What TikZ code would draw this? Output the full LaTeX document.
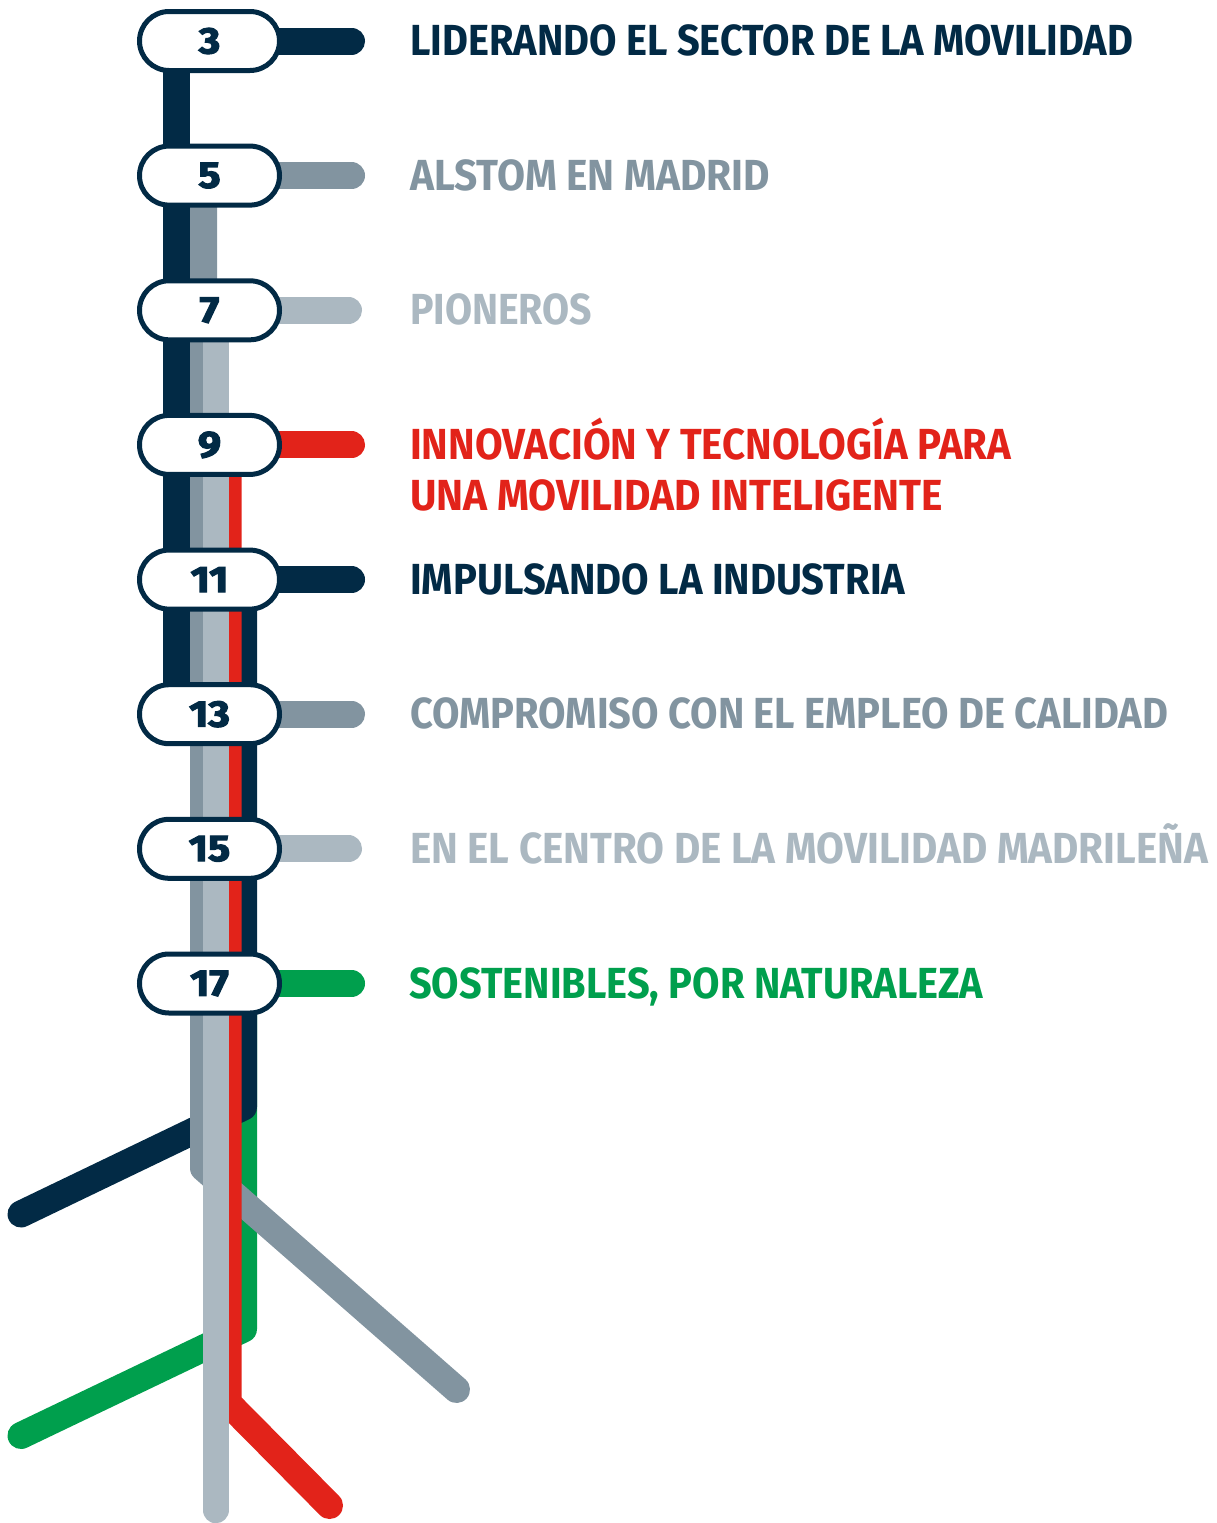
\documentclass[tikz,border=0pt]{standalone}
\usepackage{fontspec}
\setmainfont{Fira Sans}
\newfontfamily\numfont{Fira Sans}[BoldFeatures={FakeBold=3}]
\usetikzlibrary{shapes.misc}
\definecolor{navy}{RGB}{2,42,69}
\definecolor{midgray}{RGB}{130,148,160}
\definecolor{ltgray}{RGB}{171,184,193}
\definecolor{ared}{RGB}{226,35,26}
\definecolor{agreen}{RGB}{0,159,77}
\pgfdeclarelayer{bg}
\pgfsetlayers{bg,main}
\newcommand{\lbl}[2]{\resizebox{#1pt}{\height}{#2}}
\newcommand{\num}[1]{\scalebox{1.12}[1]{#1}}
\begin{document}
\begin{tikzpicture}[x=1pt,y=-1pt,
  stopbox/.style={draw=navy, fill=white, line width=5pt, rounded rectangle,
    minimum width=140pt, minimum height=59pt, inner sep=0pt,
    font=\numfont\bfseries\fontsize{37}{37}\selectfont, text=navy},
  track/.style={line width=27pt, line cap=round, line join=round},
  lab/.style={anchor=base west, inner sep=0pt, font=\bfseries\fontsize{43.5}{43.5}\selectfont}]
\useasboundingbox (0,0) rectangle (1216,1523);

% stops
\node[stopbox] (n3)  at (209.5,41)    {\num{3}};
\node[stopbox] (n5)  at (209.5,175.6) {\num{5}};
\node[stopbox] (n7)  at (209.5,310.3) {\num{7}};
\node[stopbox] (n9)  at (209.5,444.9) {\num{9}};
\node[stopbox] (n11) at (209.5,579.6) {\num{11}};
\node[stopbox] (n13) at (209.5,714.2) {\num{13}};
\node[stopbox] (n15) at (209.5,848.8) {\num{15}};
\node[stopbox] (n17) at (209.5,983.5) {\num{17}};

% arm ends
\coordinate (a3)  at (351.5,41);
\coordinate (a5)  at (351.5,175.6);
\coordinate (a7)  at (348.5,310.3);
\coordinate (a9)  at (351.5,444.9);
\coordinate (a11) at (351.5,579.6);
\coordinate (a13) at (351.5,714.2);
\coordinate (a15) at (348.5,848.8);
\coordinate (a17) at (351.5,983.5);

% branch points
\coordinate (lgEnd)  at (215.75,1510);
\coordinate (mgBend) at (203.5,1168);
\coordinate (mgEnd)  at (456.5,1389.5);
\coordinate (rdBend) at (228,1403);
\coordinate (rdEnd)  at (329.5,1505.5);
\coordinate (nbBend) at (243.5,1107);
\coordinate (nbEnd)  at (21,1214);
\coordinate (gnBend) at (243.5,1329);
\coordinate (gnEnd)  at (21,1435.5);

\begin{pgfonlayer}{bg}
  \draw[track, agreen] ([xshift=34pt]n17.center) -- (gnBend) -- (gnEnd);
  \draw[track, navy] ([xshift=34pt]n11.center) -- (nbBend) -- (nbEnd);
  \draw[track, midgray] ([xshift=-6pt]n5.center) -- (mgBend) -- (mgEnd);
  \draw[track, ared] ([xshift=18.5pt]n9.center) -- (rdBend) -- (rdEnd);
  \draw[track, ltgray, line width=26.5pt] ([xshift=6.25pt]n7.center) -- (lgEnd);
  \draw[track, navy] ([xshift=-33pt]n3.center) -- ([xshift=-33pt]n13.center);
  % arms
  \draw[track, navy]    (n3.center)  -- (a3);
  \draw[track, midgray] (n5.center)  -- (a5);
  \draw[track, ltgray]  (n7.center)  -- (a7);
  \draw[track, ared]    (n9.center)  -- (a9);
  \draw[track, navy]    (n11.center) -- (a11);
  \draw[track, midgray] (n13.center) -- (a13);
  \draw[track, ltgray]  (n15.center) -- (a15);
  \draw[track, agreen]  (n17.center) -- (a17);
\end{pgfonlayer}

% labels
\node[lab, text=navy]    (t3)  at (410,55.5)  {\lbl{723}{LIDERANDO EL SECTOR DE LA MOVILIDAD}};
\node[lab, text=midgray] (t5)  at (410,190.1) {\lbl{360}{ALSTOM EN MADRID}};
\node[lab, text=ltgray]  (t7)  at (410,324.8) {\lbl{182}{PIONEROS}};
\node[lab, text=ared]    (t9a) at (410,459.5) {\lbl{601}{INNOVACIÓN Y TECNOLOGÍA PARA}};
\node[lab, text=ared]    (t9b) at (410,510.5) {\lbl{533}{UNA MOVILIDAD INTELIGENTE}};
\node[lab, text=navy]    (t11) at (410,594.1) {\lbl{495}{IMPULSANDO LA INDUSTRIA}};
\node[lab, text=midgray] (t13) at (410,728.7) {\lbl{758}{COMPROMISO CON EL EMPLEO DE CALIDAD}};
\node[lab, text=ltgray]  (t15) at (410,863.3) {\lbl{798}{EN EL CENTRO DE LA MOVILIDAD MADRILEÑA}};
\node[lab, text=agreen]  (t17) at (409,998)   {\lbl{574}{SOSTENIBLES, POR NATURALEZA}};
\end{tikzpicture}
\end{document}
